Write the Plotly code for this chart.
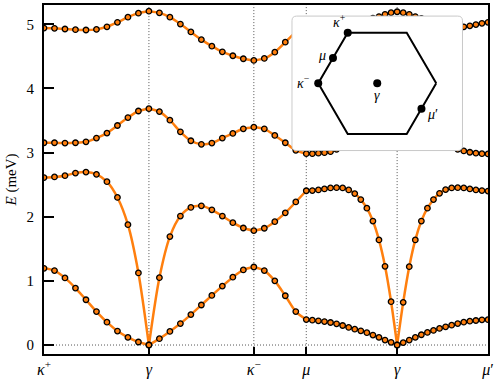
import numpy as np
import plotly.graph_objects as go

# ---- k-path (high-symmetry points) ----
tick_labels = ["<i>κ</i><sup>+</sup>", "<i>γ</i>", "<i>κ</i><sup>−</sup>", "<i>μ</i>", "<i>γ</i>", "<i>μ</i>′"]
seg_lengths = [1.0, 1.0, 0.5, np.sqrt(3) / 2, np.sqrt(3) / 2]
seg_intervals = [10, 10, 5, 15, 15]

# ---- band energies (meV) ----
band1 = [1.196, 1.16, 1.046, 0.887, 0.706, 0.521, 0.356, 0.217, 0.119, 0.047, 0.0,
         0.099, 0.212, 0.335, 0.474, 0.624, 0.773, 0.918, 1.057, 1.17, 1.216,
         1.16, 1.0, 0.768, 0.521, 0.397,
         0.387, 0.377, 0.366, 0.351, 0.33, 0.304, 0.274, 0.247, 0.222, 0.192, 0.155, 0.119, 0.077, 0.042, 0.0,
         0.037, 0.077, 0.119, 0.16, 0.196, 0.227, 0.258, 0.284, 0.309, 0.335, 0.356, 0.371, 0.382, 0.393, 0.395]
band2 = [2.61, 2.62, 2.64, 2.68, 2.695, 2.66, 2.546, 2.30, 1.876, 1.124, 0.0,
         1.05, 1.69, 2.01, 2.144, 2.17, 2.108, 2.01, 1.907, 1.824, 1.783,
         1.82, 1.923, 2.06, 2.23, 2.405,
         2.407, 2.417, 2.433, 2.448, 2.453, 2.448, 2.417, 2.36, 2.267, 2.133, 1.932, 1.638, 1.227, 0.675, 0.0,
         0.665, 1.221, 1.638, 1.932, 2.133, 2.267, 2.365, 2.422, 2.448, 2.453, 2.448, 2.433, 2.417, 2.407, 2.40]
band3 = [3.153, 3.153, 3.148, 3.153, 3.168, 3.226, 3.303, 3.422, 3.545, 3.648, 3.684,
         3.638, 3.504, 3.323, 3.184, 3.128, 3.148, 3.226, 3.298, 3.37, 3.396,
         3.37, 3.267, 3.153, 3.035, 2.983,
         2.983, 2.99, 2.998, 3.014, 3.05, 3.10, 3.17, 3.25, 3.34, 3.43, 3.51, 3.58, 3.63, 3.67, 3.68,
         3.67, 3.63, 3.58, 3.51, 3.43, 3.34, 3.25, 3.17, 3.10, 3.05, 3.025, 3.005, 2.99, 2.982, 2.978]
band4 = [4.941, 4.936, 4.926, 4.915, 4.91, 4.92, 4.96, 5.03, 5.11, 5.173, 5.204,
         5.178, 5.11, 5.003, 4.88, 4.76, 4.658, 4.57, 4.509, 4.462, 4.436,
         4.467, 4.565, 4.72, 4.88, 5.03,
         5.00, 4.975, 4.96, 4.955, 4.96, 4.975, 4.995, 5.02, 5.045, 5.07, 5.095, 5.12, 5.155, 5.18, 5.195,
         5.18, 5.155, 5.12, 5.09, 5.06, 5.035, 5.01, 4.99, 4.975, 4.962, 4.96, 4.975, 4.995, 5.015, 5.03]
bands = [band1, band2, band3, band4]

# ---- inset Brillouin-zone diagram ----
hex_x = [1.0, 0.5, -0.5, -1.0, -0.5, 0.5, 1.0]
hex_y = [0.0, 0.866, 0.866, 0.0, -0.866, -0.866, 0.0]
bz_labels = ["<i>κ</i><sup>+</sup>", "<i>μ</i>", "<i>κ</i><sup>−</sup>", "<i>γ</i>", "<i>μ</i>′"]
bz_x = [-0.5, -0.75, -1.0, 0.0, 0.75]
bz_y = [0.866, 0.433, 0.0, 0.0, -0.433]

# build k coordinates
k = [0.0]
tick_pos = [0.0]
start = 0.0
seg_ranges = []
idx = 0
for L, n in zip(seg_lengths, seg_intervals):
    for i in range(1, n + 1):
        k.append(start + L * i / n)
    seg_ranges.append((idx, idx + n))
    idx += n
    start += L
    tick_pos.append(start)

ORANGE = "#ff7f0e"
FONT = "Liberation Serif"
DOT = "1px,2px"

fig = go.Figure()

# dotted guide lines
for xv in tick_pos[1:-1]:
    fig.add_trace(go.Scatter(x=[xv, xv], y=[-0.5, 6], mode="lines",
                             line=dict(color="#555555", width=1, dash=DOT),
                             hoverinfo="skip", showlegend=False))
fig.add_trace(go.Scatter(x=[tick_pos[0], tick_pos[-1]], y=[0, 0], mode="lines",
                         line=dict(color="#555555", width=1, dash=DOT),
                         hoverinfo="skip", showlegend=False))

# bands: smooth line per segment + markers
for b in bands:
    xs, ys = [], []
    for a, e in seg_ranges:
        xs += k[a:e + 1] + [None]
        ys += b[a:e + 1] + [None]
    fig.add_trace(go.Scatter(x=xs, y=ys, mode="lines", connectgaps=False,
                             line=dict(color=ORANGE, width=2.5, shape="spline", smoothing=0.8),
                             showlegend=False, hoverinfo="skip"))
for b in bands:
    fig.add_trace(go.Scatter(x=k, y=b, mode="markers",
                             marker=dict(color=ORANGE, size=5.5,
                                         line=dict(color="black", width=1.3)),
                             showlegend=False))

# inset
fig.add_trace(go.Scatter(x=hex_x, y=hex_y, mode="lines", xaxis="x2", yaxis="y2",
                         line=dict(color="black", width=2), showlegend=False))
fig.add_trace(go.Scatter(x=bz_x, y=bz_y, mode="markers", xaxis="x2", yaxis="y2",
                         marker=dict(color="black", size=8), showlegend=False))

shifts = [(-8, 12), (-11, 3), (-15, 1), (0, -12), (11, -6)]
for lab, xv, yv, (dx, dy) in zip(bz_labels, bz_x, bz_y, shifts):
    fig.add_annotation(x=xv, y=yv, xref="x2", yref="y2", text=lab, showarrow=False,
                       xshift=dx, yshift=dy, font=dict(family=FONT, size=14, color="black"))

# rounded white inset frame
rx, ry, r = 1.445, 1.15, 0.08
path = (f"M {-rx + r},{-ry} L {rx - r},{-ry} Q {rx},{-ry} {rx},{-ry + r} "
        f"L {rx},{ry - r} Q {rx},{ry} {rx - r},{ry} L {-rx + r},{ry} "
        f"Q {-rx},{ry} {-rx},{ry - r} L {-rx},{-ry + r} Q {-rx},{-ry} {-rx + r},{-ry} Z")
fig.add_shape(type="path", path=path, xref="x2", yref="y2", layer="below",
              fillcolor="white", line=dict(color="#c8c8c8", width=1))

axis_common = dict(showline=True, linecolor="black", linewidth=2, mirror=True,
                   ticks="inside", tickcolor="black", showgrid=False, zeroline=False)

fig.update_layout(
    width=498, height=382,
    margin=dict(l=44, r=10, t=3, b=27),
    font=dict(family=FONT, size=14, color="black"),
    paper_bgcolor="white", plot_bgcolor="rgba(0,0,0,0)",
    xaxis=dict(range=[tick_pos[0], tick_pos[-1]], tickvals=tick_pos, ticktext=tick_labels,
               ticklen=7, tickwidth=1.5, tickfont=dict(family=FONT, size=16, color="black"),
               **axis_common),
    yaxis=dict(range=[-0.14, 5.30], tickvals=[0, 1, 2, 3, 4, 5], ticklen=10, tickwidth=1.5,
               ticklabelstandoff=5, tickfont=dict(family=FONT, size=15, color="black"),
               title=dict(text="<i>E</i> (meV)", font=dict(family=FONT, size=15, color="black"),
                          standoff=6),
               **axis_common),
    xaxis2=dict(domain=[0.5565, 0.9445], range=[-1.46, 1.46], visible=False, anchor="y2"),
    yaxis2=dict(domain=[0.5796, 0.9716], range=[-1.17, 1.17], visible=False, anchor="x2"),
)

fig.write_html("out.html")
